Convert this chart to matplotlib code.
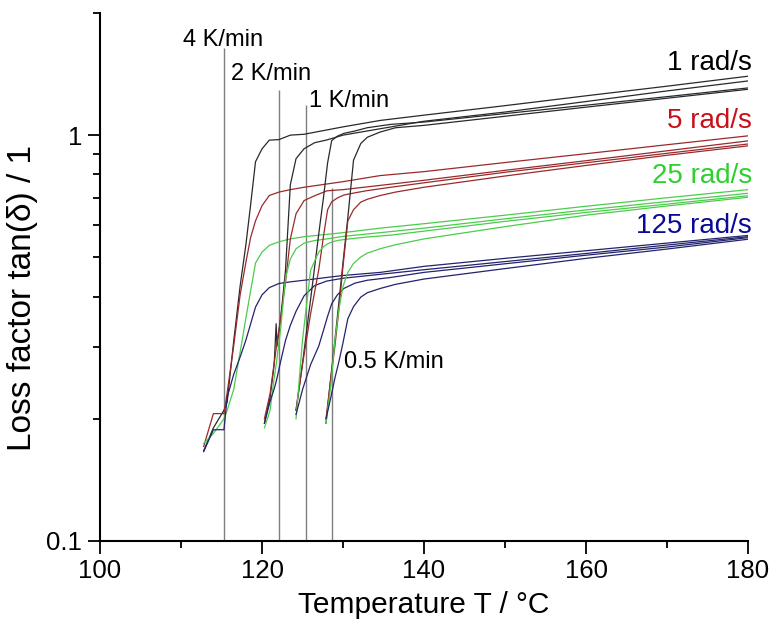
import numpy as np
import matplotlib.pyplot as plt
from matplotlib.ticker import FixedLocator, NullFormatter

plt.rcParams['font.family'] = ['Liberation Sans', 'DejaVu Sans']

# heating rate 4 K/min
t_4k = [112.8, 114.0, 115.3, 115.7, 116.5, 117.3, 118.0, 118.6, 119.2, 120.0, 120.9,
        122.1, 123.5, 125.2, 130.0, 134.6, 140, 150, 160, 170, 180]
tan_4k_1 = [0.167, 0.19, 0.21, 0.22, 0.31, 0.425, 0.535, 0.675, 0.86, 0.925, 0.972,
            0.975, 1.0, 1.005, 1.048, 1.087, 1.12, 1.182, 1.25, 1.32, 1.397]
tan_4k_5 = [0.171, 0.206, 0.206, 0.232, 0.302, 0.404, 0.485, 0.56, 0.615, 0.67, 0.71,
            0.724, 0.734, 0.744, 0.768, 0.795, 0.813, 0.856, 0.9, 0.947, 0.996]
tan_4k_25 = [0.174, 0.184, 0.2, 0.21, 0.236, 0.292, 0.353, 0.414, 0.484, 0.515, 0.535,
             0.546, 0.555, 0.562, 0.575, 0.59, 0.605, 0.635, 0.668, 0.701, 0.734]
tan_4k_125 = [0.166, 0.188, 0.188, 0.226, 0.257, 0.284, 0.312, 0.343, 0.377, 0.404, 0.421,
              0.431, 0.435, 0.439, 0.451, 0.459, 0.475, 0.497, 0.519, 0.542, 0.566]

# heating rate 2 K/min
t_2k = [120.3, 121.0, 121.5, 121.75, 121.85, 122.3, 122.9, 123.5, 124.2, 125.2, 126.5,
        128.0, 130.0, 134.6, 140, 150, 160, 170, 180]
tan_2k_1 = [0.195, 0.226, 0.272, 0.343, 0.302, 0.353, 0.465, 0.755, 0.875, 0.926, 0.958,
            0.973, 1.0, 1.037, 1.082, 1.14, 1.21, 1.285, 1.36]
tan_2k_5 = [0.2, 0.231, 0.274, 0.298, 0.308, 0.354, 0.434, 0.555, 0.64, 0.69, 0.709,
            0.729, 0.734, 0.752, 0.774, 0.819, 0.865, 0.915, 0.968]
tan_2k_25 = [0.19, 0.21, 0.252, 0.272, 0.282, 0.333, 0.445, 0.495, 0.525, 0.542, 0.55,
             0.555, 0.563, 0.575, 0.59, 0.622, 0.654, 0.686, 0.719]
tan_2k_125 = [0.195, 0.221, 0.237, 0.247, 0.252, 0.277, 0.312, 0.34, 0.368, 0.402, 0.426,
              0.437, 0.444, 0.454, 0.466, 0.488, 0.511, 0.536, 0.562]

# heating rate 1 K/min
t_1k = [124.2, 125.0, 126.0, 127.0, 127.6, 128.1, 128.6, 129.3, 130.1, 131.5, 133.0,
        135.9, 140, 150, 160, 170, 180]
tan_1k_1 = [0.21, 0.274, 0.394, 0.57, 0.705, 0.855, 0.969, 0.994, 1.01, 1.024, 1.043,
            1.063, 1.077, 1.13, 1.185, 1.244, 1.307]
tan_1k_5 = [0.21, 0.272, 0.363, 0.465, 0.565, 0.655, 0.685, 0.7, 0.712, 0.721, 0.73,
            0.744, 0.763, 0.81, 0.855, 0.902, 0.951]
tan_1k_25 = [0.2, 0.313, 0.465, 0.515, 0.531, 0.54, 0.545, 0.55, 0.553, 0.557, 0.561,
             0.567, 0.58, 0.613, 0.645, 0.676, 0.709]
tan_1k_125 = [0.205, 0.236, 0.272, 0.302, 0.331, 0.358, 0.384, 0.404, 0.419, 0.432, 0.439,
              0.446, 0.459, 0.482, 0.506, 0.53, 0.559]

# heating rate 0.5 K/min
t_05k = [127.9, 128.5, 129.0, 129.5, 130.0, 130.6, 131.3, 132.2, 133.0, 134.6, 136.5,
         140, 150, 160, 170, 180]
tan_05k_1 = [0.195, 0.254, 0.312, 0.389, 0.486, 0.628, 0.868, 0.954, 0.988, 1.018, 1.043,
             1.057, 1.113, 1.172, 1.233, 1.297]
tan_05k_5 = [0.2, 0.252, 0.302, 0.373, 0.475, 0.615, 0.655, 0.684, 0.695, 0.71, 0.724,
             0.744, 0.793, 0.842, 0.892, 0.941]
tan_05k_25 = [0.195, 0.242, 0.312, 0.373, 0.424, 0.459, 0.483, 0.501, 0.512, 0.525, 0.537,
              0.555, 0.595, 0.635, 0.669, 0.703]
tan_05k_125 = [0.2, 0.226, 0.252, 0.277, 0.308, 0.353, 0.378, 0.399, 0.409, 0.419, 0.429,
               0.442, 0.469, 0.497, 0.524, 0.554]

# onset markers per heating rate
rate_labels = ['4 K/min', '2 K/min', '1 K/min', '0.5 K/min']
rate_T = [115.3, 122.1, 125.4, 128.7]
rate_line_top = [1.638, 1.29, 1.186, 0.74]
rate_label_T = [110.2, 116.2, 125.8, 130.1]
rate_label_y = [1.66, 1.366, 1.172, 0.267]

freq_labels = ['1 rad/s', '5 rad/s', '25 rad/s', '125 rad/s']
freq_label_y = [1.446, 1.04, 0.762, 0.574]
freq_text_col = ['#000000', '#c8101a', '#2ed02e', '#0a0a96']
freq_line_col = ['#2a2a2a', '#9a2a2a', '#4ccc4c', '#23236e']

fig = plt.figure(figsize=(7.71, 6.26), dpi=100)
ax = fig.add_axes([0.1297, 0.1358, 0.8405, 0.8435])

groups = [(t_4k, [tan_4k_1, tan_4k_5, tan_4k_25, tan_4k_125]),
          (t_2k, [tan_2k_1, tan_2k_5, tan_2k_25, tan_2k_125]),
          (t_1k, [tan_1k_1, tan_1k_5, tan_1k_25, tan_1k_125]),
          (t_05k, [tan_05k_1, tan_05k_5, tan_05k_25, tan_05k_125])]

ax.vlines(rate_T, 0.1, rate_line_top, color='#7f7f7f', lw=1.0, zorder=1)

for t, curves in groups:
    for c, vals in enumerate(curves):
        ax.plot(t, vals, color=freq_line_col[c], lw=0.9, zorder=2)

for i in range(len(rate_labels)):
    ax.text(rate_label_T[i], rate_label_y[i], rate_labels[i], fontsize=17,
            ha='left', va='baseline')

for i in range(len(freq_labels)):
    ax.text(180.5, freq_label_y[i], freq_labels[i], fontsize=20, color=freq_text_col[i],
            ha='right', va='baseline', clip_on=False)

ax.set_yscale('log')
ax.set_xlim(100, 180)
ax.set_ylim(0.1, 2.0)

ax.set_xticks([100, 120, 140, 160, 180])
ax.set_xticks([110, 130, 150, 170], minor=True)
ax.yaxis.set_major_locator(FixedLocator([0.1, 1]))
ax.set_yticklabels(['0.1', '1'])
ax.yaxis.set_minor_locator(FixedLocator([0.2, 0.3, 0.4, 0.5, 0.6, 0.7, 0.8, 0.9, 2]))
ax.yaxis.set_minor_formatter(NullFormatter())

ax.tick_params(which='major', direction='out', length=9, width=1.3, labelsize=18.5, pad=4)
ax.tick_params(which='minor', direction='out', length=5, width=1.3)

ax.spines['top'].set_visible(False)
ax.spines['right'].set_visible(False)
ax.spines['left'].set_linewidth(1.5)
ax.spines['bottom'].set_linewidth(1.5)

ax.set_xlabel('Temperature T / °C', fontsize=21.5)
ax.set_ylabel('Loss factor tan(δ) / 1', fontsize=24)
ax.xaxis.set_label_coords(0.5, -0.121)
ax.xaxis.label.set_va('center')
ax.yaxis.set_label_coords(-0.12, 0.46)
ax.yaxis.label.set_va('center')

fig.savefig('out.png', dpi=100)
